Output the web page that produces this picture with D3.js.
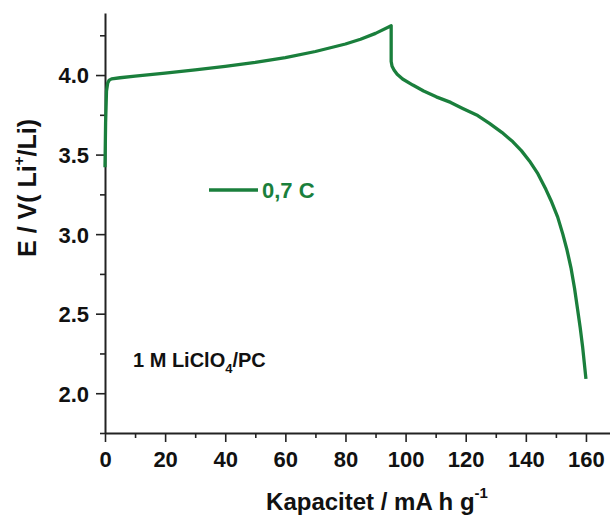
<!DOCTYPE html>
<html><head><meta charset="utf-8">
<script src="https://cdn.jsdelivr.net/npm/d3@7"></script>
<style>body{margin:0;background:#fff}svg{display:block}text{font-family:"Liberation Sans",Arial,sans-serif;font-weight:bold}</style>
</head><body>
<svg id="c" width="610" height="518"></svg>
<script>
// Capacity (mA h g^-1) and potential (V)
const capacity = [0,0.2,0.5,0.9,1.4,2.2,5,10,20,30,40,50,60,70,80,85,90,95.2,
  95.2,95.5,96.2,97.2,99,102.4,106,110.2,115,119,124,127.9,132,135.7,138.5,141.2,144,146.7,148.4,150.6,152.3,153.7,155,156.2,157.2,158.1,158.9,160];
const voltage = [3.42,3.7,3.9,3.95,3.968,3.976,3.983,3.993,4.012,4.032,4.055,4.08,4.11,4.148,4.195,4.225,4.262,4.31,
  4.085,4.055,4.03,4.005,3.975,3.937,3.9,3.863,3.828,3.79,3.745,3.696,3.64,3.58,3.525,3.46,3.38,3.28,3.21,3.107,3.0,2.9,2.79,2.66,2.53,2.41,2.29,2.09];
const xTicks = [0,20,40,60,80,100,120,140,160];
const xMinor = [10,30,50,70,90,110,130,150];
const yTicks = [2.0,2.5,3.0,3.5,4.0];
const yMinor = [1.75,2.25,2.75,3.25,3.75,4.25];
const seriesLabel = "0,7 C";

const green = "#1a7f3c";
const svg = d3.select("#c");
const x = d3.scaleLinear().domain([0,168]).range([105,610]);
const y = d3.scaleLinear().domain([1.75,4.39]).range([433,13]);

// axes
const xAxis = svg.append("g").attr("transform","translate(0,433)")
  .call(d3.axisBottom(x).tickValues(xTicks).tickFormat(d3.format("d")).tickSize(9).tickSizeOuter(0));
svg.append("g").attr("transform","translate(0,433)")
  .call(d3.axisBottom(x).tickValues(xMinor).tickFormat("").tickSize(5).tickSizeOuter(0))
  .select(".domain").remove();
const yAxis = svg.append("g").attr("transform","translate(105,0)")
  .call(d3.axisLeft(y).tickValues(yTicks).tickFormat(d3.format(".1f")).tickSize(9).tickSizeOuter(0));
svg.append("g").attr("transform","translate(105,0)")
  .call(d3.axisLeft(y).tickValues(yMinor).tickFormat("").tickSize(5).tickSizeOuter(0))
  .select(".domain").remove();
svg.selectAll(".domain").attr("stroke","#222").attr("stroke-width",2);
svg.selectAll(".tick line").attr("stroke","#222").attr("stroke-width",1.6);
xAxis.selectAll("text").attr("font-size",22).attr("fill","#111").attr("y",18).attr("dy","0.71em");
yAxis.selectAll("text").attr("font-size",22).attr("fill","#111").attr("x",-16).attr("dy","0.36em");

// curve
const pts = capacity.map((c,i)=>[c,voltage[i]]);
svg.append("path").datum(pts)
  .attr("fill","none").attr("stroke",green).attr("stroke-width",3.3)
  .attr("stroke-linejoin","round").attr("stroke-linecap","butt")
  .attr("d", d3.line().x(d=>x(d[0])).y(d=>y(d[1])));

// legend
svg.append("line").attr("x1",209).attr("x2",258).attr("y1",190).attr("y2",190)
  .attr("stroke",green).attr("stroke-width",3.3);
svg.append("text").attr("x",262).attr("y",198).attr("font-size",22).attr("fill",green).text(seriesLabel);

// annotation
const ann = svg.append("text").attr("x",133).attr("y",367).attr("font-size",20).attr("fill","#111");
ann.append("tspan").text("1 M LiClO");
ann.append("tspan").attr("font-size",13).attr("dy",6).text("4");
ann.append("tspan").attr("dy",-6).text("/PC");

// axis titles
const xt = svg.append("text").attr("x",377).attr("y",510).attr("text-anchor","middle").attr("font-size",24).attr("fill","#111");
xt.append("tspan").text("Kapacitet / mA h g");
xt.append("tspan").attr("font-size",15).attr("dy",-12).text("-1");

const yt = svg.append("text").attr("transform","translate(36,188) rotate(-90)").attr("text-anchor","middle").attr("font-size",25).attr("fill","#111");
yt.append("tspan").text("E / V( Li");
yt.append("tspan").attr("font-size",15).attr("dy",-12).text("+");
yt.append("tspan").attr("dy",12).text("/Li)");
</script>
</body></html>
